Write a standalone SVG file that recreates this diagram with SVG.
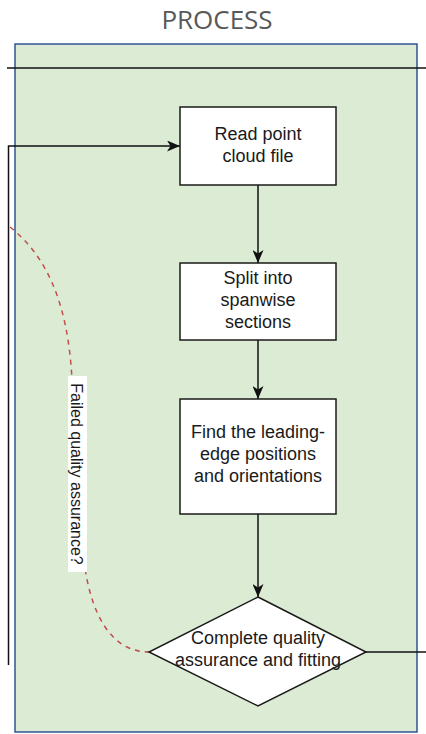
<svg xmlns="http://www.w3.org/2000/svg" width="426" height="734" viewBox="0 0 426 734">
<style>
  .node{fill:#ffffff;stroke:#1a1a1a;stroke-width:1.5}
  .lbl{font-family:"Liberation Sans",Arial,sans-serif;font-size:18px;fill:#1a1a1a;text-anchor:middle}
  .edge{fill:none;stroke:#111;stroke-width:1.5}
</style>
<defs>
  <marker id="arr" viewBox="0 0 13 11" refX="13" refY="5.5" markerWidth="13" markerHeight="11" markerUnits="userSpaceOnUse" orient="auto">
    <path d="M0,0 L13,5.5 L0,11 L3.5,5.5 Z" fill="#111"/>
  </marker>
</defs>
<rect width="426" height="734" fill="#ffffff"/>
<g id="pool">
  <text x="217" y="29" font-family="'Open Sans','Liberation Sans',sans-serif" font-size="26" fill="#595959" text-anchor="middle">PROCESS</text>
  <rect x="15" y="44" width="402" height="688" fill="#dcebd4" stroke="#2f5597" stroke-width="1.5"/>
</g>
<g id="connectors">
  <line x1="7" y1="68" x2="426" y2="68" stroke="#111" stroke-width="1.5"/>
  <path class="edge" d="M8.5,665 V146 H180" marker-end="url(#arr)"/>
  <line class="edge" x1="258" y1="185" x2="258" y2="263" marker-end="url(#arr)"/>
  <line class="edge" x1="258" y1="340" x2="258" y2="399" marker-end="url(#arr)"/>
  <line class="edge" x1="258" y1="514" x2="258" y2="597" marker-end="url(#arr)"/>
  <line class="edge" x1="366" y1="652" x2="426" y2="652"/>
  <path d="M10,227 C45,255 68,300 72,380 L84,560 C90,612 110,652 149,652" fill="none" stroke="#c0504d" stroke-width="1.5" stroke-dasharray="5,5"/>
  <g id="edge-label">
    <rect x="68" y="376" width="19" height="196" fill="#ffffff"/>
    <text transform="translate(71,474) rotate(90)" font-family="'Liberation Sans',Arial,sans-serif" font-size="16" fill="#1a1a1a" text-anchor="middle">Failed quality assurance?</text>
  </g>
</g>
<g id="read">
  <rect class="node" x="180" y="107" width="156" height="78"/>
  <text class="lbl" x="258" y="140">Read point</text>
  <text class="lbl" x="258" y="162">cloud file</text>
</g>
<g id="split">
  <rect class="node" x="180" y="263" width="156" height="77"/>
  <text class="lbl" x="258" y="284">Split into</text>
  <text class="lbl" x="258" y="306">spanwise</text>
  <text class="lbl" x="258" y="328">sections</text>
</g>
<g id="find">
  <rect class="node" x="180" y="399" width="156" height="115"/>
  <text class="lbl" x="258" y="438">Find the leading-</text>
  <text class="lbl" x="258" y="460">edge positions</text>
  <text class="lbl" x="258" y="482">and orientations</text>
</g>
<g id="qa">
  <polygon class="node" points="258,597 366,652 258,706 149,652"/>
  <text class="lbl" x="258" y="644">Complete quality</text>
  <text class="lbl" x="258" y="666">assurance and fitting</text>
</g>
</svg>
